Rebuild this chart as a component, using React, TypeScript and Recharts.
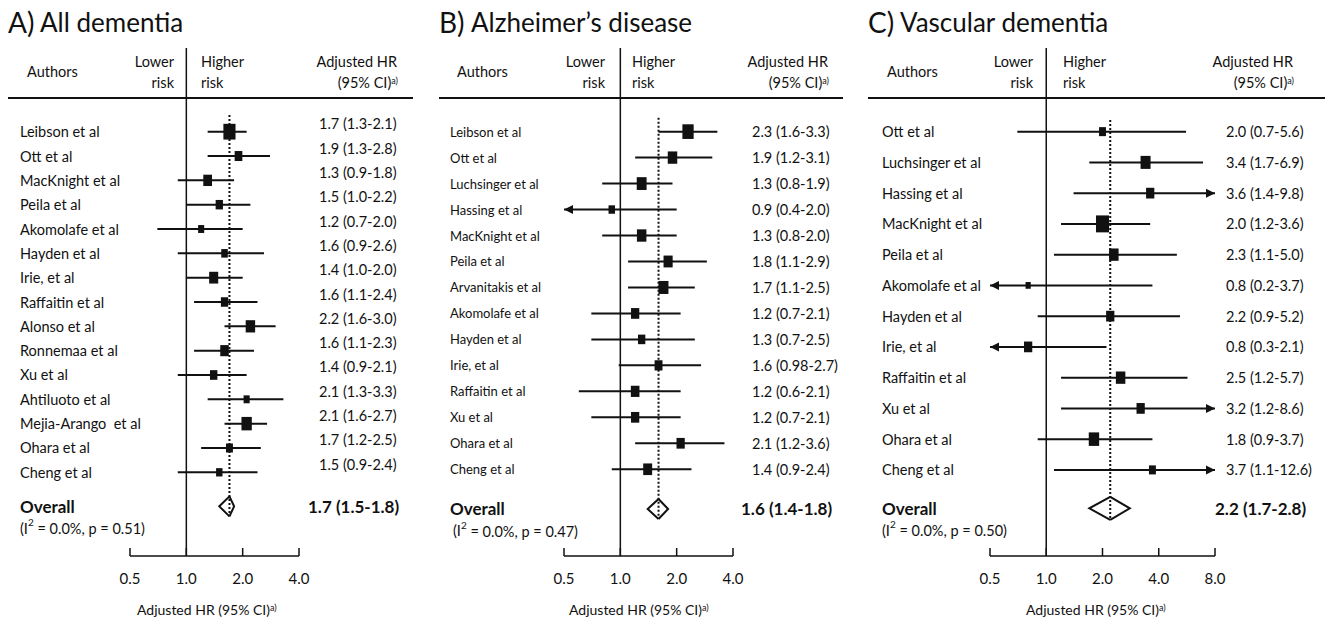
import React from "react";
import { ReferenceLine, Scatter, ScatterChart, XAxis, YAxis, ZAxis } from "recharts";

// A) All dementia
const aAuthors = [
  "Leibson et al", "Ott et al", "MacKnight et al", "Peila et al", "Akomolafe et al",
  "Hayden et al", "Irie, et al", "Raffaitin et al", "Alonso et al", "Ronnemaa et al",
  "Xu et al", "Ahtiluoto et al", "Mejia-Arango  et al", "Ohara et al", "Cheng et al",
];
const aHr = [1.7, 1.9, 1.3, 1.5, 1.2, 1.6, 1.4, 1.6, 2.2, 1.6, 1.4, 2.1, 2.1, 1.7, 1.5];
const aLower = [1.3, 1.3, 0.9, 1.0, 0.7, 0.9, 1.0, 1.1, 1.6, 1.1, 0.9, 1.3, 1.6, 1.2, 0.9];
const aUpper = [2.1, 2.8, 1.8, 2.2, 2.0, 2.6, 2.0, 2.4, 3.0, 2.3, 2.1, 3.3, 2.7, 2.5, 2.4];
const aWeight = [14.7, 5.9, 7.6, 5.3, 3.7, 4.3, 8.2, 5.3, 8.9, 7.3, 5.5, 3.7, 10.7, 4.8, 4.1];

// B) Alzheimer's disease
const bAuthors = [
  "Leibson et al", "Ott et al", "Luchsinger et al", "Hassing et al", "MacKnight et al",
  "Peila et al", "Arvanitakis et al", "Akomolafe et al", "Hayden et al", "Irie, et al",
  "Raffaitin et al", "Xu et al", "Ohara et al", "Cheng et al",
];
const bHr = [2.3, 1.9, 1.3, 0.9, 1.3, 1.8, 1.7, 1.2, 1.3, 1.6, 1.2, 1.2, 2.1, 1.4];
const bLower = [1.6, 1.2, 0.8, 0.4, 0.8, 1.1, 1.1, 0.7, 0.7, 0.98, 0.6, 0.7, 1.2, 0.9];
const bUpper = [3.3, 3.1, 1.9, 2.0, 2.0, 2.9, 2.5, 2.1, 2.5, 2.7, 2.1, 2.1, 3.6, 2.4];
const bWeight = [12.7, 9, 9.7, 4.2, 9, 8.3, 10, 6.8, 5.4, 6.2, 7.4, 6.8, 6.8, 8];

// C) Vascular dementia
const cAuthors = [
  "Ott et al", "Luchsinger et al", "Hassing et al", "MacKnight et al", "Peila et al",
  "Akomolafe et al", "Hayden et al", "Irie, et al", "Raffaitin et al", "Xu et al",
  "Ohara et al", "Cheng et al",
];
const cHr = [2.0, 3.4, 3.6, 2.0, 2.3, 0.8, 2.2, 0.8, 2.5, 3.2, 1.8, 3.7];
const cLower = [0.7, 1.7, 1.4, 1.2, 1.1, 0.2, 0.9, 0.3, 1.2, 1.2, 0.9, 1.1];
const cUpper = [5.6, 6.9, 9.8, 3.6, 5.0, 3.7, 5.2, 2.1, 5.7, 8.6, 3.7, 12.6];
const cWeight = [4.8, 10, 6.8, 17, 9, 2.7, 6.8, 6.8, 9, 6.8, 10.8, 4.8];

// pooled estimates, one per panel
const overallHr = [1.7, 1.6, 2.2];
const overallLower = [1.5, 1.4, 1.7];
const overallUpper = [1.8, 1.8, 2.8];
const overallI2 = ["0.0%", "0.0%", "0.0%"];
const overallP = ["0.51", "0.47", "0.50"];

const panelLetters = ["A)", "B)", "C)"];
const panelTitles = ["All dementia", "Alzheimer’s disease", "Vascular dementia"];
const ticksAB = [0.5, 1, 2, 4];
const ticksC = [0.5, 1, 2, 4, 8];

const FONT = "Lato, 'Noto Sans', sans-serif";
const INK = "#111";

const layouts = [
  {
    left: 0, width: 420, yLeft: 130, yRight: 121, rows: [-3.44, 17.44], overallRow: 15.4,
    dotStart: -0.69, diamondH: 10, nameX: 20, nameSize: 14.5, i2Dx: 0, hrX: 319, hrDy: -8,
    rule: [8, 413], head: [27, 174, 201, 397], axisTitle: 137,
  },
  {
    left: 430, width: 420, yLeft: 134, yRight: 117, rows: [-3.22, 16.34], overallRow: 14.53,
    dotStart: -0.53, diamondH: 10, nameX: 20, nameSize: 13, i2Dx: 3, hrX: 322, hrDy: 0,
    rule: [439, 843], head: [457, 605, 632, 828], axisTitle: 569,
  },
  {
    left: 860, width: 465, yLeft: 130, yRight: 110, rows: [-2.72, 13.8], overallRow: 12.25,
    dotStart: -0.38, diamondH: 11.5, nameX: 22, nameSize: 14.5, i2Dx: 0, hrX: 366, hrDy: 0,
    rule: [868, 1325], head: [887, 1033, 1063, 1293], axisTitle: 1026,
  },
];

function fmt(v: number) {
  const s = String(v);
  return s.includes(".") ? s : v.toFixed(1);
}

type Study = { row: number; hr: number; lo: number; hi: number; w: number };

function buildRows(hr: number[], lo: number[], hi: number[], w: number[]): Study[] {
  return hr.map((v, i) => ({ row: i, hr: v, lo: lo[i], hi: hi[i], w: w[i] }));
}

const Square = (p: any) => {
  const area = p.size ?? (Math.PI * p.width * p.width) / 4;
  const s = Math.sqrt(area);
  const h = s * 1.3;
  return <rect x={p.cx - s / 2} y={p.cy - h / 2} width={s} height={h} fill={INK} />;
};

const ciShape = (arrowLeft: boolean, arrowRight: boolean) => (p: any) => (
  <g>
    <line x1={p.x1} y1={p.y1} x2={p.x2} y2={p.y2} stroke={INK} strokeWidth={2} />
    {arrowLeft && (
      <polygon points={`${p.x1},${p.y1} ${p.x1 + 9},${p.y1 - 4.5} ${p.x1 + 9},${p.y1 + 4.5}`} fill={INK} />
    )}
    {arrowRight && (
      <polygon points={`${p.x2},${p.y2} ${p.x2 - 9},${p.y2 - 4.5} ${p.x2 - 9},${p.y2 + 4.5}`} fill={INK} />
    )}
  </g>
);

function T({ x, y, size, anchor = "start", bold, children }: any) {
  const tx = anchor === "end" ? "-100%" : anchor === "middle" ? "-50%" : "0";
  return (
    <div
      style={{
        position: "absolute", left: x, top: y, transform: `translate(${tx}, -50%)`,
        fontSize: size, fontWeight: bold ? 700 : 400, lineHeight: 1, whiteSpace: "nowrap", color: INK,
      }}
    >
      {children}
    </div>
  );
}

function ForestPanel({ idx, authors, rows, ticks }: { idx: number; authors: string[]; rows: Study[]; ticks: number[] }) {
  const lay = layouts[idx];
  const xMin = ticks[0];
  const xMax = ticks[ticks.length - 1];
  const est = overallHr[idx];
  const oLo = overallLower[idx];
  const oHi = overallUpper[idx];
  const oRow = lay.overallRow;
  const rowTicks = [...rows.map((r) => r.row), oRow];

  const nameTick = (p: any) => {
    const v = p.payload.value;
    if (v === oRow) {
      return (
        <g>
          <text x={lay.nameX} y={p.y} dominantBaseline="central" fontSize={17} fontWeight={700} fill={INK}>
            Overall
          </text>
          <text x={lay.nameX + lay.i2Dx} y={p.y + 22} dominantBaseline="central" fontSize={14.5} fill={INK}>
            (I<tspan baselineShift="super" fontSize={10}>2</tspan>
            <tspan>{` = ${overallI2[idx]}, p = ${overallP[idx]})`}</tspan>
          </text>
        </g>
      );
    }
    return (
      <text
        x={lay.nameX}
        y={p.y}
        dominantBaseline="central"
        fontSize={lay.nameSize}
        fill={INK}
        style={{ whiteSpace: "pre" }}
      >
        {authors[v]}
      </text>
    );
  };

  const hrTick = (p: any) => {
    const v = p.payload.value;
    if (v === oRow) {
      return (
        <text x={lay.hrX - 11} y={p.y} dominantBaseline="central" fontSize={17} fontWeight={700} fill={INK}>
          {`${fmt(est)} (${fmt(oLo)}-${fmt(oHi)})`}
        </text>
      );
    }
    const r = rows[v];
    return (
      <text x={lay.hrX} y={p.y + lay.hrDy} dominantBaseline="central" fontSize={14.5} fill={INK}>
        {`${fmt(r.hr)} (${fmt(r.lo)}-${fmt(r.hi)})`}
      </text>
    );
  };

  const xTick = (p: any) => (
    <g>
      <line x1={p.x} x2={p.x} y1={p.y - 8} y2={p.y} stroke={INK} strokeWidth={1.5} />
      <text x={p.x} y={p.y + 22} textAnchor="middle" dominantBaseline="central" fontSize={15} fill={INK}>
        {Number(p.payload.value).toFixed(1)}
      </text>
    </g>
  );

  return (
    <ScatterChart width={lay.width} height={621} margin={{ top: 48, right: 0, bottom: 25, left: 0 }}>
      <XAxis
        type="number"
        dataKey="hr"
        scale="log"
        domain={[xMin, xMax]}
        ticks={ticks}
        allowDataOverflow
        height={40}
        tickSize={0}
        tickMargin={0}
        tickLine={false}
        interval={0}
        axisLine={{ stroke: INK, strokeWidth: 1.5 }}
        tick={xTick}
      />
      <YAxis
        yAxisId="names"
        type="number"
        dataKey="row"
        orientation="left"
        width={lay.yLeft}
        domain={lay.rows}
        reversed
        allowDataOverflow
        ticks={rowTicks}
        interval={0}
        axisLine={false}
        tickLine={false}
        tick={nameTick}
      />
      <YAxis
        yAxisId="hr"
        type="number"
        dataKey="row"
        orientation="right"
        width={lay.yRight}
        domain={lay.rows}
        reversed
        allowDataOverflow
        ticks={rowTicks}
        interval={0}
        axisLine={false}
        tickLine={false}
        tick={hrTick}
      />
      <ZAxis type="number" dataKey="w" domain={[0, 20]} range={[0, 200]} />
      <ReferenceLine yAxisId="names" x={1} stroke={INK} strokeWidth={1.5} />
      {rows.map((r) => (
        <ReferenceLine
          key={`ci-${r.row}`}
          yAxisId="names"
          ifOverflow="visible"
          segment={[
            { x: Math.max(r.lo, xMin), y: r.row },
            { x: Math.min(r.hi, xMax), y: r.row },
          ]}
          shape={ciShape(r.lo < xMin, r.hi > xMax)}
        />
      ))}
      <ReferenceLine
        yAxisId="names"
        ifOverflow="visible"
        segment={[{ x: oLo, y: oRow }, { x: est, y: oRow }]}
        shape={(p: any) => (
          <path
            d={`M${p.x2},${p.y1 - lay.diamondH} L${p.x1},${p.y1} L${p.x2},${p.y1 + lay.diamondH}`}
            fill="none"
            stroke={INK}
            strokeWidth={2}
          />
        )}
      />
      <ReferenceLine
        yAxisId="names"
        ifOverflow="visible"
        segment={[{ x: est, y: oRow }, { x: oHi, y: oRow }]}
        shape={(p: any) => (
          <path
            d={`M${p.x1},${p.y1 - lay.diamondH} L${p.x2},${p.y1} L${p.x1},${p.y1 + lay.diamondH}`}
            fill="none"
            stroke={INK}
            strokeWidth={2}
          />
        )}
      />
      <ReferenceLine
        yAxisId="names"
        ifOverflow="visible"
        segment={[{ x: est, y: lay.dotStart }, { x: est, y: oRow }]}
        shape={(p: any) => (
          <line
            x1={p.x1}
            y1={p.y1}
            x2={p.x2}
            y2={p.y2 + lay.diamondH}
            stroke={INK}
            strokeWidth={2}
            strokeDasharray="2 2"
          />
        )}
      />
      <Scatter yAxisId="names" data={rows} shape={Square} isAnimationActive={false} />
    </ScatterChart>
  );
}

const panelData = [
  { authors: aAuthors, rows: buildRows(aHr, aLower, aUpper, aWeight), ticks: ticksAB },
  { authors: bAuthors, rows: buildRows(bHr, bLower, bUpper, bWeight), ticks: ticksAB },
  { authors: cAuthors, rows: buildRows(cHr, cLower, cUpper, cWeight), ticks: ticksC },
];

export default function App() {
  return (
    <div
      style={{
        position: "fixed", left: 0, top: 0, width: 1325, height: 621,
        background: "#fff", fontFamily: FONT, overflow: "hidden",
      }}
    >
      {layouts.map((lay, i) => (
        <React.Fragment key={i}>
          <div style={{ position: "absolute", left: lay.left, top: 0 }}>
            <ForestPanel idx={i} authors={panelData[i].authors} rows={panelData[i].rows} ticks={panelData[i].ticks} />
          </div>
          <T x={lay.rule[0]} y={22} size={28}>{panelLetters[i]}</T>
          <T x={lay.rule[0] + 32} y={22} size={26}>{panelTitles[i]}</T>
          <div
            style={{
              position: "absolute", left: lay.rule[0], top: 97, width: lay.rule[1] - lay.rule[0],
              height: 1.5, background: INK,
            }}
          />
          <T x={lay.head[0]} y={72} size={14.5}>Authors</T>
          <T x={lay.head[1]} y={62} size={14.5} anchor="end">Lower</T>
          <T x={lay.head[1]} y={83} size={14.5} anchor="end">risk</T>
          <T x={lay.head[2]} y={62} size={14.5}>Higher</T>
          <T x={lay.head[2]} y={83} size={14.5}>risk</T>
          <T x={lay.head[3]} y={62} size={14.5} anchor="end">Adjusted HR</T>
          <T x={lay.head[3] + 1} y={83} size={14.5} anchor="end">
            (95% CI)<sup style={{ fontSize: 9, verticalAlign: "4px" }}>a)</sup>
          </T>
          <T x={lay.axisTitle} y={610} size={14}>
            Adjusted HR (95% CI)<sup style={{ fontSize: 9, verticalAlign: "4px" }}>a)</sup>
          </T>
        </React.Fragment>
      ))}
    </div>
  );
}
